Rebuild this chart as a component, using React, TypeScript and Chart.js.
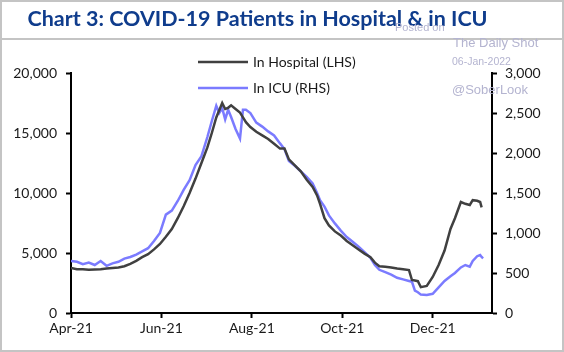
import React, { useEffect, useRef } from "react";
import { Chart, registerables } from "chart.js";

Chart.register(...registerables);

// Dates of the observations
const dates = [
  "2021-04-01", "2021-04-05", "2021-04-09", "2021-04-13", "2021-04-17", "2021-04-21", "2021-04-25", "2021-04-29",
  "2021-05-03", "2021-05-07", "2021-05-11", "2021-05-15", "2021-05-19", "2021-05-23", "2021-05-27", "2021-05-31",
  "2021-06-04", "2021-06-08", "2021-06-12", "2021-06-16", "2021-06-20", "2021-06-24", "2021-06-28", "2021-07-02",
  "2021-07-05", "2021-07-08", "2021-07-10", "2021-07-12", "2021-07-14", "2021-07-16", "2021-07-18", "2021-07-21",
  "2021-07-24", "2021-07-26", "2021-07-28", "2021-07-31", "2021-08-04", "2021-08-08", "2021-08-12", "2021-08-16",
  "2021-08-20", "2021-08-23", "2021-08-26", "2021-08-30", "2021-09-03", "2021-09-07", "2021-09-11", "2021-09-14",
  "2021-09-16", "2021-09-19", "2021-09-22", "2021-09-26", "2021-09-30", "2021-10-04", "2021-10-08", "2021-10-12",
  "2021-10-16", "2021-10-20", "2021-10-23", "2021-10-26", "2021-10-30", "2021-11-03", "2021-11-07", "2021-11-11",
  "2021-11-15", "2021-11-17", "2021-11-19", "2021-11-21", "2021-11-23", "2021-11-27", "2021-12-01", "2021-12-05",
  "2021-12-09", "2021-12-13", "2021-12-16", "2021-12-20", "2021-12-23", "2021-12-26", "2021-12-28", "2021-12-31",
  "2022-01-02", "2022-01-03", "2022-01-04",
];

// In Hospital (LHS)
const hospital = [
  3750, 3650, 3650, 3600, 3620, 3650, 3700, 3750,
  3800, 3900, 4100, 4350, 4650, 4900, 5300, 5750,
  6350, 7000, 7900, 8900, 10000, 11200, 12500, 13800,
  15000, 16300, 16900, 17500, 17000, 17100, 17300, 17000,
  16700, 16300, 15900, 15500, 15100, 14800, 14500, 14100,
  13700, 13700, 12800, 12300, 11800, 11100, 10500, 9800,
  9100, 7900, 7300, 6800, 6450, 6000, 5650, 5300,
  4950, 4650, 4200, 3900, 3850, 3800, 3700, 3650,
  3580, 2750, 2700, 2650, 2150, 2250, 3000, 4000,
  5200, 7000, 7900, 9250, 9100, 9000, 9400, 9350,
  9250, 8800, null,
];

// In ICU (RHS)
const icu = [
  650, 640, 610, 630, 600, 650, 590, 620,
  640, 680, 700, 730, 770, 810, 900, 1000,
  1230, 1280, 1400, 1540, 1660, 1850, 1960, 2200,
  2400, 2590, 2500, 2560, 2420, 2540, 2450, 2300,
  2180, 2540, 2540, 2500, 2380, 2330, 2270, 2220,
  2120, 2050, 1900, 1840, 1770, 1700, 1620, 1500,
  1410, 1330, 1220, 1120, 1030, 950, 890, 830,
  760, 690, 600, 540, 510, 480, 440, 420,
  400, 390, 280, 260, 230, 225, 240, 320,
  400, 460, 500, 570, 600, 580, 650, 710,
  725, 700, 683,
];

const tickDates = ["2021-04-01", "2021-06-01", "2021-08-01", "2021-10-01", "2021-12-01"];
const tickLabels = ["Apr-21", "Jun-21", "Aug-21", "Oct-21", "Dec-21"];
const axisStart = "2021-04-01";
const axisEnd = "2022-01-10";

function dayOf(s: string): number {
  const [y, m, d] = s.split("-").map(Number);
  const [y0, m0, d0] = axisStart.split("-").map(Number);
  return Math.round((Date.UTC(y, m - 1, d) - Date.UTC(y0, m0 - 1, d0)) / 86400000);
}

const FONT = "Lato";
const TXT = "#1a1a1a";

const legendPlugin = {
  id: "customLegend",
  afterDraw(chart: any) {
    const ctx = chart.ctx;
    ctx.save();
    const items = [
      { label: "In Hospital (LHS)", color: "#404040", y: 62 },
      { label: "In ICU (RHS)", color: "#7b7bff", y: 88 },
    ];
    ctx.font = `14px ${FONT}`;
    ctx.textBaseline = "middle";
    ctx.textAlign = "left";
    for (const it of items) {
      ctx.strokeStyle = it.color;
      ctx.lineWidth = 2.5;
      ctx.beginPath();
      ctx.moveTo(198, it.y);
      ctx.lineTo(248, it.y);
      ctx.stroke();
      ctx.fillStyle = TXT;
      ctx.fillText(it.label, 253, it.y);
    }
    ctx.restore();
  },
};

export default function App() {
  const ref = useRef<HTMLCanvasElement>(null);
  useEffect(() => {
    document.body.style.margin = "0";
    const xs = dates.map(dayOf);
    const hData = xs.map((x, i) => ({ x, y: hospital[i] }));
    const iData = xs.map((x, i) => ({ x, y: icu[i] }));
    const tickDays = tickDates.map(dayOf);
    const chart = new Chart(ref.current as HTMLCanvasElement, {
      type: "line",
      data: {
        datasets: [
          {
            label: "In Hospital (LHS)",
            data: hData as any,
            borderColor: "#404040",
            borderWidth: 2.5,
            pointRadius: 0,
            tension: 0,
            yAxisID: "y",
            spanGaps: false,
          },
          {
            label: "In ICU (RHS)",
            data: iData as any,
            borderColor: "#7b7bff",
            borderWidth: 2.5,
            pointRadius: 0,
            tension: 0,
            yAxisID: "y1",
          },
        ],
      },
      options: {
        animation: false,
        responsive: false,
        maintainAspectRatio: false,
        layout: { padding: { top: 73, left: 0, right: 0, bottom: 0 } },
        plugins: { legend: { display: false }, tooltip: { enabled: false }, title: { display: false } },
        scales: {
          x: {
            type: "linear",
            min: 0,
            max: dayOf(axisEnd),
            afterBuildTicks: (scale: any) => {
              scale.ticks = tickDays.map((v) => ({ value: v }));
            },
            afterFit: (scale: any) => {
              scale.height = 39;
            },
            ticks: {
              autoSkip: false,
              maxRotation: 0,
              padding: 2,
              color: TXT,
              font: { family: FONT, size: 14 },
              callback: (v: any) => {
                const i = tickDays.indexOf(Number(v));
                return i >= 0 ? tickLabels[i] : "";
              },
            },
            grid: { drawOnChartArea: false, tickLength: 5, tickColor: "#000", tickWidth: 2 },
            border: { color: "#000", width: 2 },
          },
          y: {
            position: "left",
            min: 0,
            max: 20000,
            afterFit: (scale: any) => {
              scale.width = 71;
            },
            ticks: {
              stepSize: 5000,
              padding: 9,
              color: TXT,
              font: { family: FONT, size: 14 },
              callback: (v: any) => Number(v).toLocaleString("en-US"),
            },
            grid: { drawOnChartArea: false, tickLength: 5, tickColor: "#000", tickWidth: 2 },
            border: { color: "#000", width: 2 },
          },
          y1: {
            position: "right",
            min: 0,
            max: 3000,
            afterFit: (scale: any) => {
              scale.width = 72;
            },
            ticks: {
              stepSize: 500,
              padding: 8,
              color: TXT,
              font: { family: FONT, size: 14 },
              callback: (v: any) => Number(v).toLocaleString("en-US"),
            },
            grid: { drawOnChartArea: false, tickLength: 5, tickColor: "#000", tickWidth: 2 },
            border: { color: "#000", width: 2 },
          },
        },
      } as any,
      plugins: [legendPlugin],
    });
    return () => chart.destroy();
  }, []);

  const wm: React.CSSProperties = {
    position: "absolute",
    color: "#b4b4d0",
    fontFamily: "'Liberation Sans', Arial, sans-serif",
    whiteSpace: "nowrap",
    lineHeight: 1,
  };

  return (
    <div style={{ position: "relative", width: 564, height: 352, background: "#fff", overflow: "hidden" }}>
      <canvas ref={ref} width={564} height={352} style={{ position: "absolute", left: 0, top: 0 }} />
      <div
        style={{
          position: "absolute",
          left: 0,
          top: 0,
          width: 564,
          height: 352,
          boxSizing: "border-box",
          border: "2px solid #c4c4c4",
          pointerEvents: "none",
        }}
      />
      <div style={{ position: "absolute", left: 0, top: 38, width: 564, height: 2, background: "#c4c4c4" }} />
      <div
        style={{
          position: "absolute",
          left: 0,
          top: 3,
          width: 515,
          textAlign: "center",
          fontFamily: FONT,
          fontWeight: 700,
          fontSize: 21.5,
          color: "#0f3c8c",
          whiteSpace: "nowrap",
          lineHeight: "30px",
        }}
      >
        Chart 3: COVID-19 Patients in Hospital &amp; in ICU
      </div>
      <div style={{ ...wm, left: 395, top: 22, fontSize: 11 }}>Posted on</div>
      <div style={{ ...wm, left: 453, top: 36, fontSize: 13 }}>The Daily Shot</div>
      <div style={{ ...wm, left: 452, top: 56, fontSize: 10.5 }}>06-Jan-2022</div>
      <div style={{ ...wm, left: 452, top: 83, fontSize: 13 }}>@SoberLook</div>
    </div>
  );
}
